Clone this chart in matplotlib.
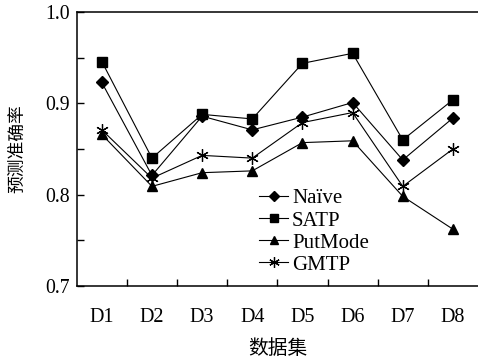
import matplotlib
matplotlib.use("Agg")
import matplotlib.pyplot as plt
from matplotlib.ticker import MultipleLocator, FixedLocator

plt.rcParams['font.family'] = ['Liberation Serif', 'Noto Sans CJK SC']

datasets = ["D1", "D2", "D3", "D4", "D5", "D6", "D7", "D8"]
naive = [0.923, 0.821, 0.886, 0.871, 0.885, 0.901, 0.838, 0.884]
satp = [0.946, 0.840, 0.888, 0.883, 0.944, 0.955, 0.860, 0.904]
putmode = [0.866, 0.809, 0.824, 0.826, 0.857, 0.859, 0.798, 0.762]
gmtp = [0.871, 0.818, 0.843, 0.840, 0.879, 0.890, 0.809, 0.850]

fig = plt.figure(figsize=(4.78, 3.59), dpi=100)
ax = fig.add_axes([0.1605, 0.2042, 0.8395, 0.7615])

x = list(range(len(datasets)))
ax.plot(x, naive, color='black', lw=0.8, marker='D', ms=6, label='Naïve')
ax.plot(x, satp, color='black', lw=0.8, marker='s', ms=7.5, label='SATP')
ax.plot(x, putmode, color='black', lw=0.8, marker='^', ms=7.5, label='PutMode')
ax.plot(x, gmtp, color='black', lw=0.8, marker=(6, 2, 0), ms=9, mew=0.9, label='GMTP')

ax.set_xlim(-0.5, len(datasets) - 0.5)
ax.set_ylim(0.7, 1.0)
ax.set_xticks(x)
ax.set_xticklabels(datasets, fontsize=14.5)
ax.xaxis.set_minor_locator(FixedLocator([i + 0.5 for i in range(len(datasets) - 1)]))
ax.tick_params(axis='x', which='major', length=0, pad=16)
ax.tick_params(axis='x', which='minor', direction='in', length=5, width=1)

ax.yaxis.set_minor_locator(MultipleLocator(0.05))
ax.set_yticks([0.7, 0.8, 0.9, 1.0])
ax.set_yticklabels(["0.7", "0.8", "0.9", "1.0"], fontsize=14.2)
ax.tick_params(axis='y', which='both', direction='in', length=5, width=1, pad=5)

ax.spines['right'].set_visible(False)
for s in ['left', 'bottom', 'top']:
    ax.spines[s].set_linewidth(1.1)

fig.text(0.582, 0.03, "数据集", ha='center', va='center', fontsize=14.2,
         family=['Noto Sans CJK SC'])
fig.text(0.036, 0.585, "预测准确率", ha='center', va='center', rotation=90,
         fontsize=12.8, family=['Noto Sans CJK SC'])

ax.legend(loc='upper left', bbox_to_anchor=(0.542, 0.474), bbox_transform=fig.transFigure,
          frameon=False, fontsize=15, borderaxespad=0, borderpad=0,
          labelspacing=0.12, handlelength=1.4, handletextpad=0.18, markerscale=0.85)

fig.savefig("out.png", dpi=100)
